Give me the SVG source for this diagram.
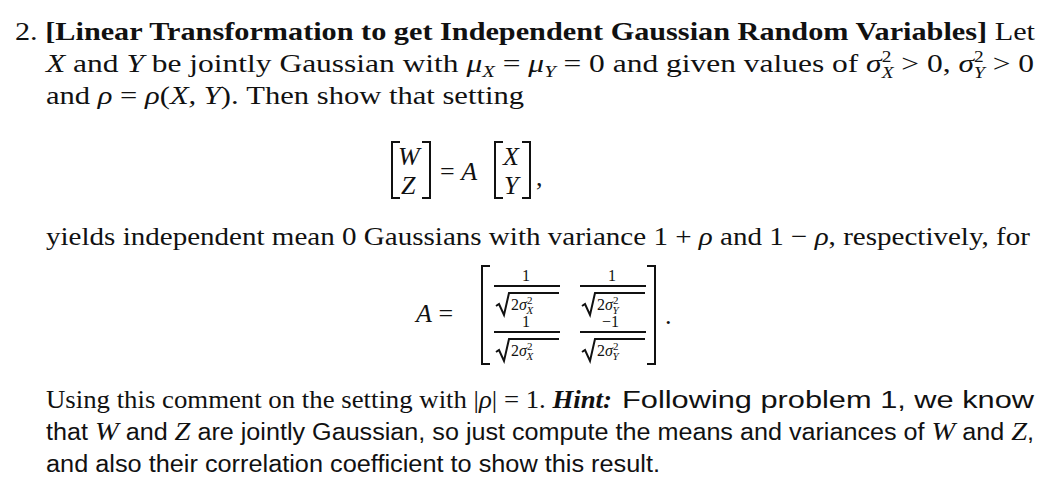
<svg xmlns="http://www.w3.org/2000/svg" width="1056" height="492" viewBox="0 0 1056 492">
<style>
text{font-family:"Liberation Serif","DejaVu Serif",serif;font-size:26px;fill:#111}
.i{font-style:italic}
.s{font-family:"Liberation Sans","DejaVu Sans",sans-serif;font-size:23px}
.sm{font-size:16px}
.br{fill:none;stroke:#111;stroke-width:2}
</style>
<rect width="1056" height="492" fill="#fff"/>
<text x="15" y="40" textLength="1020" lengthAdjust="spacingAndGlyphs">2. <tspan font-weight="bold">[Linear Transformation to get Independent Gaussian Random Variables]</tspan> Let</text>
<text x="46" y="72" textLength="988" lengthAdjust="spacingAndGlyphs"><tspan class="i">X</tspan> and <tspan class="i">Y</tspan> be jointly Gaussian with <tspan class="i">μ</tspan><tspan class="i" font-size="17" dy="5">X</tspan><tspan dy="-5"> = </tspan><tspan class="i">μ</tspan><tspan class="i" font-size="17" dy="5">Y</tspan><tspan dy="-5"> = 0 and given values of </tspan><tspan class="i">σ</tspan><tspan font-size="16" dy="-10">2</tspan><tspan class="i" font-size="16" dx="-8" dy="16">X</tspan><tspan dy="-6"> &gt; 0, </tspan><tspan class="i">σ</tspan><tspan font-size="16" dy="-10">2</tspan><tspan class="i" font-size="16" dx="-8" dy="16">Y</tspan><tspan dy="-6"> &gt; 0</tspan></text>
<text x="46" y="104" textLength="478" lengthAdjust="spacingAndGlyphs">and <tspan class="i">ρ</tspan> = <tspan class="i">ρ</tspan>(<tspan class="i">X, Y</tspan>). Then show that setting</text>
<g>
<path class="br" d="M400,142 h-8 v56 h8 M422,142 h8 v56 h-8 M503,142 h-8 v56 h8 M522,142 h8 v56 h-8"/>
<text class="i" x="398" y="165">W</text>
<text class="i" x="401" y="194">Z</text>
<text x="440" y="180">= <tspan class="i">A</tspan></text>
<text class="i" x="503" y="165">X</text>
<text class="i" x="504" y="194">Y</text>
<text x="536" y="186">,</text>
</g>
<text x="46" y="245" textLength="984" lengthAdjust="spacingAndGlyphs">yields independent mean 0 Gaussians with variance 1 + <tspan class="i">ρ</tspan> and 1 − <tspan class="i">ρ</tspan>, respectively, for</text>
<g>
<text x="416" y="322"><tspan class="i">A</tspan> =</text>
<path class="br" d="M490,266 h-8 v98 h8 M647,266 h8 v98 h-8"/>
<text class="sm" x="522" y="281">1</text>
<text class="sm" x="608" y="281">1</text>
<text class="sm" x="522" y="327">1</text>
<text class="sm" x="602" y="327">−1</text>
<path class="br" stroke-width="1.3" d="M494,286 h66 M580,286 h66 M494,332 h66 M580,332 h66"/>
<path class="br" stroke-width="1.3" d="M496,306 l3,-2 l5,11 l5,-22 h50 M582,306 l3,-2 l5,11 l5,-22 h50 M496,352 l3,-2 l5,11 l5,-22 h50 M582,352 l3,-2 l5,11 l5,-22 h50"/>
<text class="sm" x="511" y="310">2<tspan class="i">σ</tspan><tspan font-size="11" dy="-6">2</tspan><tspan class="i" font-size="11" dx="-6" dy="10">X</tspan></text>
<text class="sm" x="597" y="310">2<tspan class="i">σ</tspan><tspan font-size="11" dy="-6">2</tspan><tspan class="i" font-size="11" dx="-6" dy="10">Y</tspan></text>
<text class="sm" x="511" y="356">2<tspan class="i">σ</tspan><tspan font-size="11" dy="-6">2</tspan><tspan class="i" font-size="11" dx="-6" dy="10">X</tspan></text>
<text class="sm" x="597" y="356">2<tspan class="i">σ</tspan><tspan font-size="11" dy="-6">2</tspan><tspan class="i" font-size="11" dx="-6" dy="10">Y</tspan></text>
<text x="665" y="324">.</text>
</g>
<text x="46" y="408" textLength="566" lengthAdjust="spacingAndGlyphs">Using this comment on the setting with |<tspan class="i">ρ</tspan>| = 1. <tspan class="i" font-weight="bold">Hint:</tspan></text>
<text class="s" x="622" y="408" textLength="412" lengthAdjust="spacingAndGlyphs">Following problem 1, we know</text>
<text class="s" x="46" y="440" textLength="988" lengthAdjust="spacingAndGlyphs">that <tspan font-family="Liberation Serif" font-style="italic" font-size="26">W</tspan> and <tspan font-family="Liberation Serif" font-style="italic" font-size="26">Z</tspan> are jointly Gaussian, so just compute the means and variances of <tspan font-family="Liberation Serif" font-style="italic" font-size="26">W</tspan> and <tspan font-family="Liberation Serif" font-style="italic" font-size="26">Z</tspan>,</text>
<text class="s" x="46" y="472" textLength="614" lengthAdjust="spacingAndGlyphs">and also their correlation coefficient to show this result.</text>
</svg>
